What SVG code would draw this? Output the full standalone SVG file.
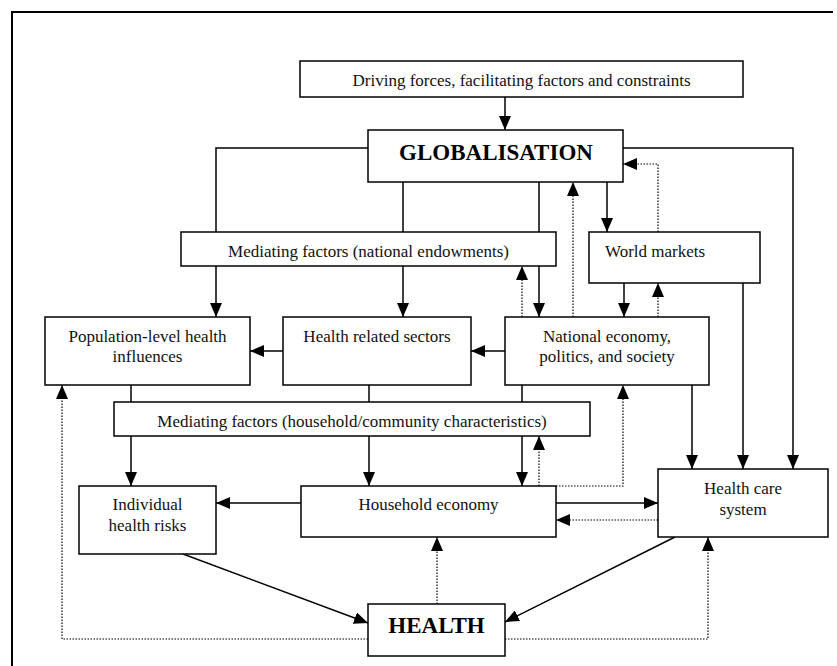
<svg xmlns="http://www.w3.org/2000/svg" width="837" height="666" viewBox="0 0 837 666">
<defs>
<marker id="ah" markerUnits="userSpaceOnUse" markerWidth="14" markerHeight="12" refX="14" refY="6" orient="auto">
<path d="M0,0 L14,6 L0,12 z" fill="#000"/>
</marker>
<style>
.box{fill:#fff;stroke:#000;stroke-width:1.5}
.t{font-family:"Liberation Serif","Times New Roman",serif;font-size:17px;fill:#111;text-anchor:middle}
.b{font-family:"Liberation Serif","Times New Roman",serif;font-size:23px;font-weight:bold;fill:#000;text-anchor:middle}
.s{fill:none;stroke:#000;stroke-width:1.5;marker-end:url(#ah)}
.d{fill:none;stroke:#000;stroke-width:1.2;stroke-dasharray:1.5,1.5;marker-end:url(#ah)}
</style>
</defs>
<rect width="837" height="666" fill="#fff"/>
<path d="M12,666 V12 H833" fill="none" stroke="#000" stroke-width="2"/>
<g id="connectors">
<path class="s" d="M505,97 V130"/>
<path class="s" d="M368,148 H216 V317"/>
<path class="s" d="M403,182 V317"/>
<path class="s" d="M539,182 V317"/>
<path class="s" d="M607,182 V232"/>
<path class="s" d="M623,148 H793 V469"/>
<path class="s" d="M624,283 V317"/>
<path class="s" d="M743,283 V469"/>
<path class="s" d="M692,385 V469"/>
<path class="s" d="M505,351 H471"/>
<path class="s" d="M283,351 H250"/>
<path class="s" d="M131,385 V486"/>
<path class="s" d="M369,385 V486"/>
<path class="s" d="M522,385 V486"/>
<path class="s" d="M301,503 H216"/>
<path class="s" d="M556,503 H658"/>
<path class="s" d="M183,554 L368,623"/>
<path class="s" d="M675,537 L505,622"/>
<path class="d" d="M522,317 V266"/>
<path class="d" d="M573,317 V182"/>
<path class="d" d="M658,232 V164 H623"/>
<path class="d" d="M658,317 V283"/>
<path class="d" d="M539,486 V436"/>
<path class="d" d="M556,486 H623 V385"/>
<path class="d" d="M658,520 H556"/>
<path class="d" d="M437,604 V537"/>
<path class="d" d="M505,639 H708 V537"/>
<path class="d" d="M368,639 H62 V385"/>
</g>
<g id="driving">
<rect class="box" x="300" y="61" width="443" height="36"/>
<text class="t" x="521.5" y="86">Driving forces, facilitating factors and constraints</text>
</g>
<g id="globalisation">
<rect class="box" x="368" y="130" width="255" height="52"/>
<text class="b" x="496" y="160">GLOBALISATION</text>
</g>
<g id="mediating-national">
<rect class="box" x="181" y="232" width="375" height="34"/>
<text class="t" x="368.5" y="257">Mediating factors (national endowments)</text>
</g>
<g id="world-markets">
<rect class="box" x="589" y="232" width="171" height="51"/>
<text class="t" x="605" y="257" style="text-anchor:start">World markets</text>
</g>
<g id="population">
<rect class="box" x="45" y="317" width="205" height="68"/>
<text class="t" x="147.5" y="342">Population-level health</text>
<text class="t" x="147.5" y="362">influences</text>
</g>
<g id="health-related">
<rect class="box" x="283" y="317" width="188" height="68"/>
<text class="t" x="377" y="342">Health related sectors</text>
</g>
<g id="national">
<rect class="box" x="505" y="317" width="204" height="68"/>
<text class="t" x="607" y="342">National economy,</text>
<text class="t" x="607" y="362">politics, and society</text>
</g>
<g id="mediating-household">
<rect class="box" x="114" y="402" width="476" height="34"/>
<text class="t" x="352" y="427">Mediating factors (household/community characteristics)</text>
</g>
<g id="individual">
<rect class="box" x="79" y="486" width="137" height="68"/>
<text class="t" x="147.5" y="510">Individual</text>
<text class="t" x="147.5" y="531">health risks</text>
</g>
<g id="household">
<rect class="box" x="301" y="486" width="255" height="51"/>
<text class="t" x="428.5" y="510">Household economy</text>
</g>
<g id="health-care">
<rect class="box" x="658" y="469" width="170" height="68"/>
<text class="t" x="743" y="494">Health care</text>
<text class="t" x="743" y="515">system</text>
</g>
<g id="health">
<rect class="box" x="368" y="604" width="137" height="52"/>
<text class="b" x="436.5" y="633">HEALTH</text>
</g>
</svg>
